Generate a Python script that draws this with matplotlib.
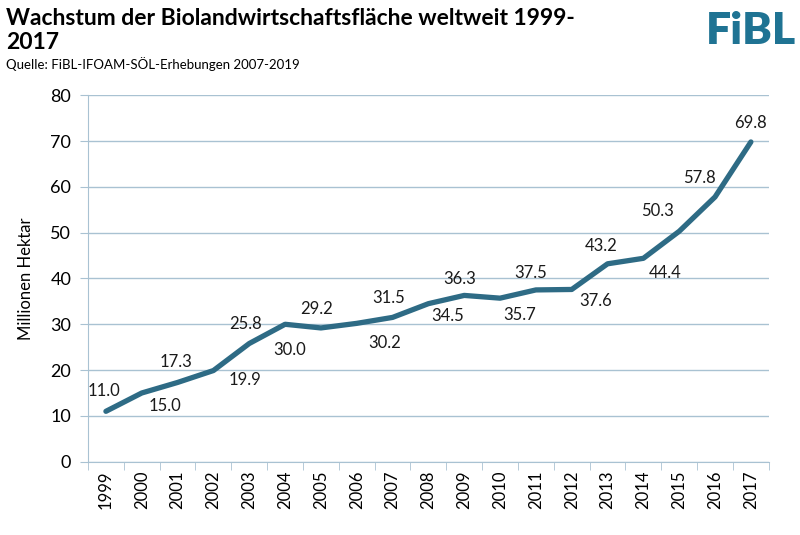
import numpy as np
import matplotlib
matplotlib.use('Agg')
import matplotlib.pyplot as plt

plt.rcParams['font.family'] = ['Lato', 'DejaVu Sans']

years = ['1999', '2000', '2001', '2002', '2003', '2004', '2005', '2006', '2007',
         '2008', '2009', '2010', '2011', '2012', '2013', '2014', '2015', '2016', '2017']
area = [11.0, 15.0, 17.3, 19.9, 25.8, 30.0, 29.2, 30.2, 31.5,
        34.5, 36.3, 35.7, 37.5, 37.6, 43.2, 44.4, 50.3, 57.8, 69.8]

# label offsets in pixels (dx, dy), chosen to mimic the original
lab_off = [(-2, 20), (23, -13), (-2, 20), (32, -9), (-4, 20), (5, -26),
           (-4, 19), (28, -20), (-4, 19), (19, -12), (-5, 16), (20, -17),
           (-5, 17), (24, -12), (-6, 18), (22, -15), (-22, 20), (-16, 19),
           (0, 19)]

line_col = '#2e6b85'
grid_col = '#a9c2d2'

fig = plt.figure(figsize=(8, 5.35), dpi=100)
ax = fig.add_axes([0.11, 0.137, 0.851, 0.685])

x = np.arange(len(years))
ax.plot(x, area, color=line_col, lw=3.8, solid_capstyle='round',
        solid_joinstyle='round', zorder=3)

for i, v in enumerate(area):
    ax.annotate('%.1f' % v, (x[i], v), xytext=lab_off[i], textcoords='offset pixels',
                ha='center', va='center', fontsize=12, color='#1a1a1a')

ax.set_xlim(-0.5, len(years) - 0.5)
ax.set_ylim(0, 80)
ax.set_yticks(np.arange(0, 81, 10))
ax.set_xticks(x)
ax.set_xticklabels(years, rotation=90, fontsize=12)
ax.set_xticks(np.arange(-0.5, len(years), 1), minor=True)
ax.tick_params(axis='x', which='major', length=0, pad=6)
ax.tick_params(axis='x', which='minor', length=6, color=grid_col)
ax.tick_params(axis='y', length=6, color=grid_col, labelsize=13, pad=6)
ax.yaxis.grid(True, color=grid_col, lw=1)
ax.set_axisbelow(True)
for s in ['top', 'right']:
    ax.spines[s].set_visible(False)
for s in ['left', 'bottom']:
    ax.spines[s].set_color(grid_col)
ax.set_ylabel('Millionen Hektar', fontsize=12, labelpad=12)

fig.text(0.008, 0.985, 'Wachstum der Biolandwirtschaftsfläche weltweit 1999-\n2017',
         fontsize=16.5, fontweight='bold', va='top', ha='left', linespacing=1.15)
fig.text(0.008, 0.880, 'Quelle: FiBL-IFOAM-SÖL-Erhebungen 2007-2019',
         fontsize=9.5, va='center', ha='left')
fig.text(0.995, 0.942, 'FiBL', fontsize=32, fontweight='heavy', color='#1f7393',
         va='center', ha='right')

fig.savefig('out.png', dpi=100)
